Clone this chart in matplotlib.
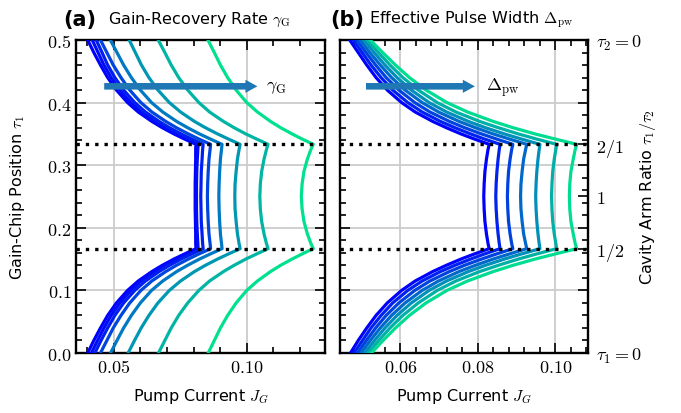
import matplotlib.pyplot as plt
from matplotlib.ticker import MultipleLocator

# gain-chip position levels for each part of a curve (lower branch, middle, upper branch)
tau_low = [0.0, 0.02, 0.04, 0.06, 0.08, 0.10, 0.115, 0.13, 0.14, 0.15, 0.158, 1 / 6]
tau_mid = [1 / 6, 0.175, 0.19, 0.21, 0.23, 0.25, 0.27, 0.29, 0.31, 0.325, 1 / 3]
tau_up = [1 / 3, 0.342, 0.35, 0.36, 0.37, 0.385, 0.40, 0.42, 0.44, 0.46, 0.48, 0.5]

# (a) pump current boundaries for rising gain-recovery rate
gain_J_low = [
    [0.0402, 0.0425, 0.0450, 0.0477, 0.0510, 0.0552, 0.0592, 0.0643, 0.0682, 0.0726, 0.0765, 0.0809],
    [0.0416, 0.0439, 0.0463, 0.0490, 0.0523, 0.0564, 0.0603, 0.0653, 0.0692, 0.0736, 0.0774, 0.0817],
    [0.0429, 0.0452, 0.0477, 0.0504, 0.0537, 0.0579, 0.0619, 0.0670, 0.0709, 0.0753, 0.0792, 0.0836],
    [0.0450, 0.0474, 0.0498, 0.0527, 0.0560, 0.0602, 0.0643, 0.0695, 0.0735, 0.0780, 0.0819, 0.0864],
    [0.0488, 0.0512, 0.0537, 0.0566, 0.0600, 0.0642, 0.0684, 0.0736, 0.0777, 0.0822, 0.0862, 0.0907],
    [0.0554, 0.0578, 0.0603, 0.0632, 0.0666, 0.0709, 0.0751, 0.0803, 0.0844, 0.0890, 0.0930, 0.0975],
    [0.0668, 0.0692, 0.0716, 0.0744, 0.0778, 0.0820, 0.0860, 0.0912, 0.0952, 0.0996, 0.1036, 0.1080],
    [0.0855, 0.0878, 0.0901, 0.0928, 0.0960, 0.1000, 0.1040, 0.1089, 0.1127, 0.1170, 0.1207, 0.1250],
]
gain_J_mid = [
    [0.0809, 0.0808, 0.0808, 0.0807, 0.0806, 0.0806, 0.0806, 0.0807, 0.0808, 0.0808, 0.0809],
    [0.0817, 0.0816, 0.0814, 0.0812, 0.0811, 0.0811, 0.0811, 0.0812, 0.0814, 0.0816, 0.0817],
    [0.0836, 0.0834, 0.0832, 0.0829, 0.0828, 0.0827, 0.0828, 0.0829, 0.0832, 0.0834, 0.0836],
    [0.0864, 0.0862, 0.0858, 0.0855, 0.0853, 0.0852, 0.0853, 0.0855, 0.0858, 0.0862, 0.0864],
    [0.0907, 0.0905, 0.0901, 0.0898, 0.0896, 0.0895, 0.0896, 0.0898, 0.0901, 0.0905, 0.0907],
    [0.0975, 0.0971, 0.0965, 0.0960, 0.0956, 0.0955, 0.0956, 0.0960, 0.0965, 0.0971, 0.0975],
    [0.1080, 0.1074, 0.1065, 0.1056, 0.1051, 0.1049, 0.1051, 0.1056, 0.1065, 0.1074, 0.1080],
    [0.1250, 0.1241, 0.1228, 0.1215, 0.1208, 0.1205, 0.1208, 0.1215, 0.1228, 0.1241, 0.1250],
]
gain_J_up = [
    [0.0809, 0.0765, 0.0726, 0.0682, 0.0643, 0.0592, 0.0552, 0.0510, 0.0477, 0.0450, 0.0425, 0.0402],
    [0.0817, 0.0774, 0.0736, 0.0692, 0.0653, 0.0603, 0.0564, 0.0523, 0.0490, 0.0463, 0.0441, 0.0419],
    [0.0836, 0.0792, 0.0753, 0.0709, 0.0670, 0.0619, 0.0579, 0.0537, 0.0504, 0.0477, 0.0456, 0.0434],
    [0.0864, 0.0819, 0.0780, 0.0735, 0.0695, 0.0643, 0.0602, 0.0560, 0.0527, 0.0498, 0.0474, 0.0450],
    [0.0907, 0.0862, 0.0822, 0.0777, 0.0736, 0.0684, 0.0642, 0.0600, 0.0566, 0.0537, 0.0512, 0.0487],
    [0.0975, 0.0930, 0.0890, 0.0844, 0.0803, 0.0751, 0.0709, 0.0666, 0.0632, 0.0604, 0.0581, 0.0558],
    [0.1080, 0.1036, 0.0996, 0.0952, 0.0912, 0.0860, 0.0820, 0.0778, 0.0744, 0.0716, 0.0692, 0.0667],
    [0.1250, 0.1207, 0.1170, 0.1127, 0.1089, 0.1040, 0.1000, 0.0960, 0.0928, 0.0901, 0.0878, 0.0854],
]
gain_shades = [0.0, 0.05, 0.12, 0.27, 0.47, 0.59, 0.71, 0.88]

# (b) pump current boundaries for rising effective pulse width
pulse_J_low = [
    [0.0471, 0.0491, 0.0513, 0.0537, 0.0566, 0.0603, 0.0638, 0.0683, 0.0718, 0.0756, 0.0790, 0.0829],
    [0.0480, 0.0502, 0.0524, 0.0550, 0.0580, 0.0619, 0.0656, 0.0703, 0.0740, 0.0781, 0.0816, 0.0857],
    [0.0489, 0.0512, 0.0536, 0.0563, 0.0596, 0.0637, 0.0676, 0.0726, 0.0765, 0.0809, 0.0847, 0.0890],
    [0.0498, 0.0522, 0.0548, 0.0577, 0.0612, 0.0656, 0.0698, 0.0751, 0.0793, 0.0839, 0.0880, 0.0926],
    [0.0507, 0.0533, 0.0560, 0.0591, 0.0628, 0.0674, 0.0719, 0.0775, 0.0819, 0.0868, 0.0911, 0.0960],
    [0.0516, 0.0544, 0.0573, 0.0606, 0.0646, 0.0695, 0.0743, 0.0804, 0.0852, 0.0904, 0.0950, 0.1003],
    [0.0525, 0.0555, 0.0587, 0.0623, 0.0666, 0.0720, 0.0773, 0.0839, 0.0890, 0.0947, 0.0998, 0.1055],
]
pulse_J_mid = [
    [0.0829, 0.0826, 0.0822, 0.0818, 0.0816, 0.0815, 0.0816, 0.0818, 0.0822, 0.0826, 0.0829],
    [0.0857, 0.0855, 0.0852, 0.0849, 0.0847, 0.0846, 0.0847, 0.0849, 0.0852, 0.0855, 0.0857],
    [0.0890, 0.0887, 0.0883, 0.0879, 0.0877, 0.0876, 0.0877, 0.0879, 0.0883, 0.0887, 0.0890],
    [0.0926, 0.0923, 0.0918, 0.0914, 0.0911, 0.0910, 0.0911, 0.0914, 0.0918, 0.0923, 0.0926],
    [0.0960, 0.0958, 0.0955, 0.0952, 0.0950, 0.0949, 0.0950, 0.0952, 0.0955, 0.0958, 0.0960],
    [0.1003, 0.1001, 0.0997, 0.0993, 0.0991, 0.0990, 0.0991, 0.0993, 0.0997, 0.1001, 0.1003],
    [0.1055, 0.1051, 0.1046, 0.1040, 0.1037, 0.1036, 0.1037, 0.1040, 0.1046, 0.1051, 0.1055],
]
pulse_J_up = [
    [0.0829, 0.0790, 0.0756, 0.0718, 0.0683, 0.0638, 0.0603, 0.0566, 0.0537, 0.0513, 0.0491, 0.0469],
    [0.0857, 0.0816, 0.0781, 0.0740, 0.0703, 0.0656, 0.0619, 0.0580, 0.0550, 0.0524, 0.0501, 0.0478],
    [0.0890, 0.0847, 0.0809, 0.0765, 0.0726, 0.0676, 0.0637, 0.0596, 0.0563, 0.0536, 0.0511, 0.0487],
    [0.0926, 0.0880, 0.0839, 0.0793, 0.0751, 0.0698, 0.0656, 0.0612, 0.0577, 0.0548, 0.0521, 0.0496],
    [0.0960, 0.0911, 0.0868, 0.0819, 0.0775, 0.0719, 0.0674, 0.0628, 0.0591, 0.0560, 0.0532, 0.0505],
    [0.1003, 0.0950, 0.0904, 0.0852, 0.0804, 0.0743, 0.0695, 0.0646, 0.0606, 0.0573, 0.0543, 0.0514],
    [0.1055, 0.0998, 0.0947, 0.0890, 0.0839, 0.0773, 0.0720, 0.0666, 0.0623, 0.0587, 0.0554, 0.0522],
]
pulse_shades = [0.0, 0.13, 0.26, 0.41, 0.56, 0.69, 0.86]

ratio_ticks = [0.0, 1 / 6, 0.25, 1 / 3, 0.5]
ratio_labels = [r"$\tau_1=0$", r"$1/2$", r"$1$", r"$2/1$", r"$\tau_2=0$"]

plt.rcParams["mathtext.fontset"] = "cm"
plt.rcParams["font.family"] = "DejaVu Sans"


def draw_curves(ax, J_low, J_mid, J_up, shades):
    cmap = plt.get_cmap("winter")
    tau = tau_low + tau_mid[1:] + tau_up[1:]
    for lo, mi, up, v in zip(J_low, J_mid, J_up, shades):
        J = lo + mi[1:] + up[1:]
        ax.plot(J, tau, color=cmap(v), lw=2.3, zorder=3)
    for level in (1 / 3, 1 / 6):
        ax.axhline(level, color="k", ls=(0, (1, 1.8)), lw=2.4, zorder=4)


def style_axes(ax, xlim, xticks, minor):
    ax.set_xlim(*xlim)
    ax.set_ylim(0, 0.5)
    ax.set_xticks(xticks, [f"${t:.2f}$" for t in xticks])
    ax.xaxis.set_minor_locator(MultipleLocator(minor))
    ax.yaxis.set_minor_locator(MultipleLocator(0.02))
    ax.tick_params(which="both", direction="in", top=True, right=True,
                   width=1.2, labelsize=13, colors="k")
    ax.tick_params(which="major", length=7)
    ax.tick_params(which="minor", length=4)
    ax.set_axisbelow(True)
    ax.grid(True, color="#cccccc", lw=1.3)
    for s in ax.spines.values():
        s.set_linewidth(1.7)
    ax.set_xlabel(r"Pump Current $J_G$", fontsize=11.5)
    ax.xaxis.set_label_coords(0.5, -0.105)


fig = plt.figure(figsize=(6.81, 4.14), dpi=100)
ax_a = fig.add_axes([0.1116, 0.1449, 0.3656, 0.7561])
ax_b = fig.add_axes([0.4993, 0.1449, 0.3641, 0.7561])

# (a) gain-recovery rate
draw_curves(ax_a, gain_J_low, gain_J_mid, gain_J_up, gain_shades)
style_axes(ax_a, (0.0358, 0.1294), [0.05, 0.10], 0.01)
ax_a.set_yticks([0, 0.1, 0.2, 0.3, 0.4, 0.5],
                [f"${t:.1f}$" for t in [0, 0.1, 0.2, 0.3, 0.4, 0.5]])
ax_a.set_ylabel(r"Gain-Chip Position $\tau_1$", fontsize=11.5)
ax_a.yaxis.set_label_coords(-0.195, 0.5)
ax_a.arrow(0.0464, 0.426, 0.1040 - 0.0464, 0, width=0.0105, head_width=0.021,
           head_length=0.0045, length_includes_head=True, color="#1f77b4",
           lw=0, zorder=5)
ax_a.text(0.1072, 0.426, r"$\gamma_\mathrm{G}$", fontsize=13, va="center")

# (b) effective pulse width
draw_curves(ax_b, pulse_J_low, pulse_J_mid, pulse_J_up, pulse_shades)
ax_r = ax_b.twinx()
style_axes(ax_b, (0.0444, 0.1084), [0.06, 0.08, 0.10], 0.004)
ax_b.set_yticks([0, 0.1, 0.2, 0.3, 0.4, 0.5])
ax_b.tick_params(labelleft=False)
ax_b.arrow(0.0511, 0.426, 0.0792 - 0.0511, 0, width=0.0105, head_width=0.021,
           head_length=0.0031, length_includes_head=True, color="#1f77b4",
           lw=0, zorder=5)
ax_b.text(0.0822, 0.426, r"$\Delta_\mathrm{pw}$", fontsize=13, va="center")

ax_r.set_ylim(0, 0.5)
ax_r.set_yticks(ratio_ticks, ratio_labels)
ax_r.tick_params(direction="in", length=7, width=1.2, labelsize=13, pad=6)
for s in ax_r.spines.values():
    s.set_visible(False)
ax_r.set_ylabel(r"Cavity Arm Ratio $\tau_1/\tau_2$", fontsize=11.5)
ax_r.yaxis.set_label_coords(1.2, 0.5)

# panel titles
fig.text(63 / 681, 1 - 20 / 414, "(a)", fontsize=15, fontweight="bold", va="center")
fig.text(108 / 681, 1 - 20 / 414, r"Gain-Recovery Rate $\gamma_\mathrm{G}$",
         fontsize=11.5, va="center")
fig.text(330 / 681, 1 - 20 / 414, "(b)", fontsize=15, fontweight="bold", va="center")
fig.text(369 / 681, 1 - 20 / 414, r"Effective Pulse Width $\Delta_\mathrm{pw}$",
         fontsize=11.5, va="center")

fig.savefig("out.png", dpi=100)
